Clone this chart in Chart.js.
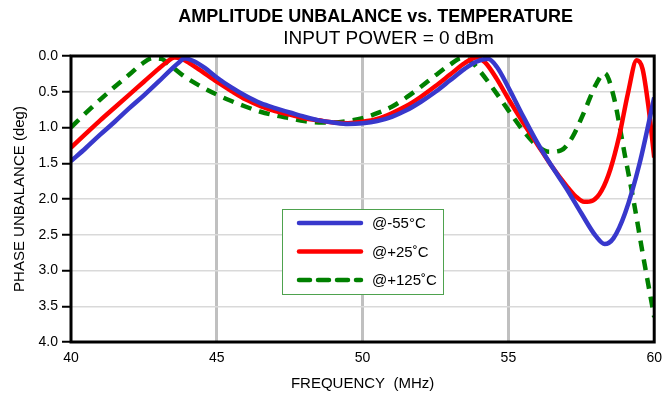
<!DOCTYPE html>
<html>
<head>
<meta charset="utf-8">
<script src="https://cdn.jsdelivr.net/npm/chart.js@4.4.1/dist/chart.umd.min.js"></script>
<style>
	html, body { margin: 0; padding: 0; background: #fff; }
</style>
</head>
<body>
<canvas id="chart_unbalance" width="670" height="397"></canvas>
<script>

// datos
let titulo = 'AMPLITUDE UNBALANCE vs. TEMPERATURE';
let subtitulo = 'INPUT POWER = 0 dBm';
let nombres = ['@-55°C', '@+25˚C', '@+125˚C'];

let freq_frio = [40, 40.5, 41, 41.5, 42, 42.5, 43, 43.4, 43.7, 43.9, 44.2, 44.6, 45, 45.5, 46, 46.5, 47, 47.5, 48, 48.5, 49, 49.5, 50, 50.5, 51, 51.5, 52, 52.5, 53, 53.5, 53.9, 54.3, 54.6, 55, 55.5, 56, 56.5, 57, 57.5, 58, 58.3, 58.6, 59, 59.5, 60];
let fase_frio = [1.47, 1.29, 1.10, 0.92, 0.73, 0.55, 0.36, 0.20, 0.09, 0.03, 0.07, 0.17, 0.30, 0.44, 0.56, 0.66, 0.73, 0.79, 0.85, 0.90, 0.93, 0.95, 0.94, 0.91, 0.85, 0.76, 0.64, 0.50, 0.34, 0.18, 0.08, 0.04, 0.15, 0.44, 0.84, 1.22, 1.55, 1.86, 2.20, 2.52, 2.63, 2.55, 2.20, 1.50, 0.58];

let freq_amb = [40, 40.5, 41, 41.5, 42, 42.5, 43, 43.3, 43.55, 43.8, 44.1, 44.5, 45, 45.5, 46, 46.5, 47, 47.5, 48, 48.5, 49, 49.5, 50, 50.5, 51, 51.5, 52, 52.5, 53, 53.5, 53.9, 54.2, 54.6, 55, 55.5, 56, 56.5, 57, 57.3, 57.6, 57.9, 58.2, 58.5, 58.8, 59.1, 59.4, 59.6, 59.8, 60];
let fase_amb = [1.28, 1.09, 0.90, 0.72, 0.54, 0.36, 0.18, 0.08, 0.02, 0.04, 0.11, 0.22, 0.36, 0.49, 0.61, 0.70, 0.77, 0.82, 0.87, 0.90, 0.93, 0.94, 0.92, 0.88, 0.80, 0.70, 0.57, 0.42, 0.26, 0.10, 0.02, 0.09, 0.32, 0.60, 0.93, 1.24, 1.55, 1.82, 1.96, 2.04, 2.02, 1.88, 1.58, 1.12, 0.52, 0.06, 0.18, 0.70, 1.42];

let freq_calor = [40, 40.5, 41, 41.5, 42, 42.4, 42.8, 43.1, 43.4, 43.8, 44.3, 45, 45.5, 46, 46.5, 47, 47.5, 48, 48.5, 49, 49.5, 50, 50.5, 51, 51.5, 52, 52.5, 53, 53.4, 53.7, 54, 54.5, 55, 55.5, 56, 56.4, 56.8, 57.2, 57.6, 58, 58.3, 58.6, 59, 59.3, 59.6, 60];
let fase_calor = [1.00, 0.80, 0.61, 0.43, 0.26, 0.12, 0.03, 0.04, 0.13, 0.26, 0.39, 0.54, 0.63, 0.71, 0.78, 0.83, 0.87, 0.91, 0.93, 0.93, 0.91, 0.87, 0.80, 0.71, 0.58, 0.43, 0.27, 0.12, 0.03, 0.07, 0.20, 0.47, 0.76, 1.04, 1.26, 1.34, 1.32, 1.13, 0.78, 0.40, 0.24, 0.55, 1.40, 2.04, 2.75, 3.65];

let x_min = 40, x_max = 60, x_paso = 5;
let y_min = 0, y_max = 4, y_paso = 0.5;

let fuente = '"Liberation Sans", Arial, sans-serif';

const puntos = (xs, ys) => xs.map((x, i) => ({ x: x, y: ys[i] }));

// titulos arriba del grafico
const titulos = {
	id: 'titulos',
	afterDraw(chart) {
		let ctx = chart.ctx;
		let area = chart.chartArea;
		let cx = (area.left + area.right) / 2 + 14;
		ctx.save();
		ctx.fillStyle = '#000';
		ctx.textAlign = 'center';
		ctx.textBaseline = 'middle';
		ctx.font = 'bold 18px ' + fuente;
		ctx.fillText(titulo, cx - 1, 17);
		ctx.font = '19px ' + fuente;
		ctx.fillText(subtitulo, cx + 12, 39);
		ctx.restore();
	}
};

// marco negro del area
const marco = {
	id: 'marco',
	afterDatasetsDraw(chart) {
		let ctx = chart.ctx;
		let a = chart.chartArea;
		ctx.save();
		ctx.strokeStyle = '#000';
		ctx.lineWidth = 3;
		ctx.strokeRect(a.left, a.top, a.right - a.left, a.bottom - a.top);
		ctx.restore();
	}
};

// leyenda dentro del grafico
const leyenda = {
	id: 'leyenda',
	afterDraw(chart) {
		let ctx = chart.ctx;
		let a = chart.chartArea;
		let bx = a.left + 211, by = a.top + 153, bw = 161, bh = 85;
		ctx.save();
		ctx.fillStyle = '#fff';
		ctx.fillRect(bx, by, bw, bh);
		ctx.strokeStyle = '#4ea24e';
		ctx.lineWidth = 1;
		ctx.strokeRect(bx + 0.5, by + 0.5, bw, bh);
		chart.data.datasets.forEach((ds, i) => {
			let y = by + 14 + i * 28.5;
			ctx.beginPath();
			ctx.strokeStyle = ds.borderColor;
			ctx.lineWidth = ds.borderWidth;
			ctx.setLineDash(ds.borderDash || []);
			ctx.lineCap = 'round';
			ctx.moveTo(bx + 17, y);
			ctx.lineTo(bx + 79, y);
			ctx.stroke();
			ctx.setLineDash([]);
			ctx.fillStyle = '#000';
			ctx.font = '15px ' + fuente;
			ctx.textBaseline = 'middle';
			ctx.fillText(ds.label, bx + 90, y + 1);
		});
		ctx.restore();
	}
};

let ctx = document.getElementById('chart_unbalance');

let data = {
	datasets: [
		{
			label: nombres[0],
			data: puntos(freq_frio, fase_frio),
			borderColor: '#3838cc',
			borderWidth: 4.5
		},
		{
			label: nombres[1],
			data: puntos(freq_amb, fase_amb),
			borderColor: '#ff0000',
			borderWidth: 4.5
		},
		{
			label: nombres[2],
			data: puntos(freq_calor, fase_calor),
			borderColor: '#008000',
			borderWidth: 4.5,
			borderDash: [11, 8]
		}
	]
};

let options = {
	responsive: false,
	animation: false,
	devicePixelRatio: 1,
	layout: { padding: { top: 56, right: 13, left: 0, bottom: 0 } },
	elements: {
		point: { radius: 0 },
		line: { cubicInterpolationMode: 'monotone', fill: false }
	},
	plugins: {
		legend: { display: false },
		tooltip: { enabled: false }
	},
	scales: {
		x: {
			type: 'linear',
			min: x_min,
			max: x_max,
			afterFit(scale) { scale.height = 55; },
			border: { display: false },
			grid: {
				drawTicks: false,
				lineWidth: 3,
				color: c => (c.tick && c.tick.value > x_min && c.tick.value < x_max) ? '#c0c0c0' : 'rgba(0,0,0,0)'
			},
			ticks: {
				stepSize: x_paso,
				padding: 8,
				color: '#000',
				font: { family: fuente, size: 14 }
			},
			title: {
				display: true,
				text: 'FREQUENCY  (MHz)',
				color: '#000',
				padding: { top: 0, bottom: 4 },
				font: { family: fuente, size: 15 }
			}
		},
		y: {
			min: y_min,
			max: y_max,
			reverse: true,
			afterFit(scale) { scale.width = 71; },
			border: { display: false },
			grid: {
				color: '#d9d9d9',
				lineWidth: 1.5,
				tickColor: '#000',
				tickLength: 9,
				tickWidth: 2
			},
			ticks: {
				stepSize: y_paso,
				padding: 4,
				color: '#000',
				font: { family: fuente, size: 14 },
				callback: v => v.toFixed(1)
			},
			title: {
				display: true,
				text: 'PHASE UNBALANCE (deg)',
				color: '#000',
				padding: { top: 11, bottom: 0 },
				font: { family: fuente, size: 15 }
			}
		}
	}
};

let grafico = new Chart(ctx, {
	type: 'line',
	data: data,
	options: options,
	plugins: [titulos, marco, leyenda]
});

</script>
</body>
</html>
